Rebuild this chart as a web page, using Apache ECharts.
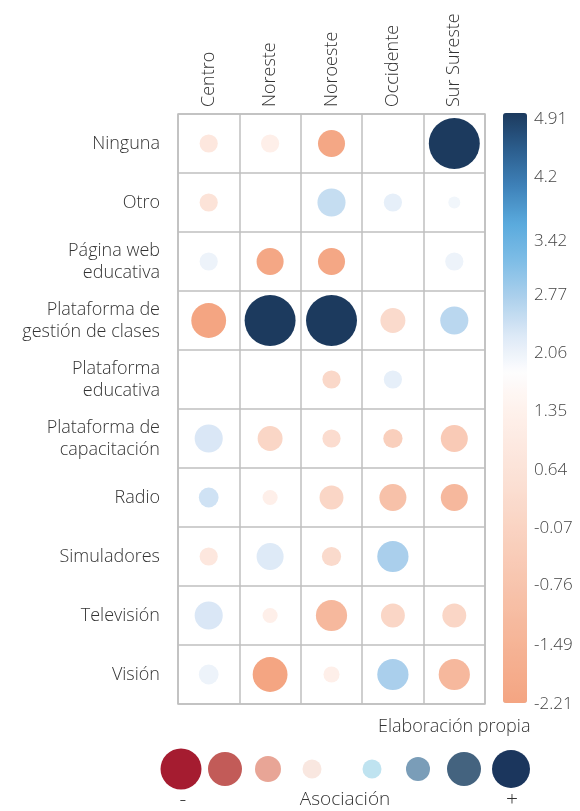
<!DOCTYPE html>
<html>
<head>
<meta charset="utf-8">
<script src="https://cdn.jsdelivr.net/npm/echarts@6/dist/echarts.min.js"></script>
<style>
  html, body { margin: 0; padding: 0; background: #fff; }
  #main { width: 580px; height: 811px; }
</style>
</head>
<body>
<div id="main"></div>
<script>
// regiones (columnas) y recursos (filas)
const regions = ['Centro', 'Noreste', 'Noroeste', 'Occidente', 'Sur Sureste'];
const resources = ['Ninguna', 'Otro', 'Página web\neducativa', 'Plataforma de\ngestión de clases',
  'Plataforma\neducativa', 'Plataforma de\ncapacitación', 'Radio', 'Simuladores', 'Televisión', 'Visión'];

// asociación (color), una fila por recurso, null = sin dato
const assocNinguna = [0.8, 1.2, -2.1, null, 4.91];
const assocOtro = [0.6, null, 2.45, 2.1, 1.95];
const assocPagina = [2.0, -2.1, -2.1, null, 2.0];
const assocGestion = [-2.21, 4.91, 4.91, 0.2, 2.55];
const assocEducativa = [null, null, 0.1, 2.1, null];
const assocCapacitacion = [2.25, 0.0, 0.3, -0.3, -0.5];
const assocRadio = [2.35, 1.2, 0.0, -0.9, -1.3];
const assocSimuladores = [0.8, 2.2, 0.2, 2.7, null];
const assocTelevision = [2.25, 1.2, -1.3, 0.0, 0.0];
const assocVision = [2.0, -2.21, 1.2, 2.7, -1.3];

// magnitud relativa (tamaño del círculo)
const magNinguna = [0.35, 0.35, 0.52, null, 0.98];
const magOtro = [0.35, null, 0.54, 0.35, 0.23];
const magPagina = [0.35, 0.52, 0.52, null, 0.35];
const magGestion = [0.67, 0.98, 0.98, 0.48, 0.54];
const magEducativa = [null, null, 0.35, 0.35, null];
const magCapacitacion = [0.54, 0.48, 0.35, 0.37, 0.52];
const magRadio = [0.38, 0.29, 0.46, 0.52, 0.52];
const magSimuladores = [0.35, 0.52, 0.37, 0.6, null];
const magTelevision = [0.54, 0.29, 0.6, 0.46, 0.46];
const magVision = [0.38, 0.67, 0.31, 0.6, 0.6];

// etiquetas de la barra de color
const scaleTicks = [4.91, 4.2, 3.42, 2.77, 2.06, 1.35, 0.64, -0.07, -0.76, -1.49, -2.21];

const assocRows = [assocNinguna, assocOtro, assocPagina, assocGestion, assocEducativa,
  assocCapacitacion, assocRadio, assocSimuladores, assocTelevision, assocVision];
const magRows = [magNinguna, magOtro, magPagina, magGestion, magEducativa,
  magCapacitacion, magRadio, magSimuladores, magTelevision, magVision];

let data = [];
for (let i = 0; i < resources.length; i++) {
  for (let j = 0; j < regions.length; j++) {
    if (assocRows[i][j] !== null) {
      data.push([regions[j], resources[i], assocRows[i][j], magRows[i][j]]);
    }
  }
}

const txt = '#333';
const font = 'Open Sans';
const gridColor = '#bfbfbf';

// leyenda inferior
const legendColors = ['#a51c30', '#c25b58', '#e8a596', '#f9e7e0', '#bfe3f0', '#7a9db8', '#44637f', '#1b365d'];
const legendSizes = [41, 34, 26, 19, 19, 24, 34, 38];
const legendX = [181, 225, 268, 312, 372, 418, 464, 511];
let legendCircles = legendColors.map(function (c, k) {
  return {
    type: 'circle',
    shape: { cx: legendX[k], cy: 769, r: legendSizes[k] / 2 },
    style: { fill: c }
  };
});

function label(text, x, y, size) {
  return {
    type: 'text', x: x, y: y,
    style: { text: text, fill: txt, fontFamily: font, fontWeight: 300, fontSize: size, align: 'center', verticalAlign: 'middle' }
  };
}

let chart = echarts.init(document.getElementById('main'));
chart.setOption({
  animation: false,
  grid: [
    { left: 178, top: 114, width: 307, height: 590, show: true, borderColor: gridColor, borderWidth: 1.5 },
    { left: 503, top: 119, width: 24, height: 585 }
  ],
  xAxis: [
    {
      type: 'category',
      data: regions,
      position: 'top',
      axisLine: { show: false },
      axisTick: { show: false },
      splitLine: { show: true, lineStyle: { color: gridColor, width: 1.5 } },
      axisLabel: { rotate: -90, margin: 7, fontSize: 18, color: txt, fontFamily: font, fontWeight: 300 }
    },
    { type: 'value', gridIndex: 1, show: false, min: 0, max: 1 }
  ],
  yAxis: [
    {
      type: 'category',
      data: resources,
      inverse: true,
      axisLine: { show: false },
      axisTick: { show: false },
      splitLine: { show: true, lineStyle: { color: gridColor, width: 1.5 } },
      axisLabel: { margin: 18, fontSize: 18, lineHeight: 22, color: txt, fontFamily: font, fontWeight: 300, align: 'right' }
    },
    {
      type: 'value',
      gridIndex: 1,
      position: 'right',
      min: -2.21,
      max: 4.91,
      axisLine: { show: false },
      axisTick: { show: false },
      splitLine: { show: false },
      axisLabel: {
        customValues: scaleTicks,
        margin: 7,
        fontSize: 17,
        color: '#444',
        fontFamily: font,
        fontWeight: 300,
        formatter: function (v) { return String(Math.round(v * 100) / 100); }
      }
    }
  ],
  visualMap: [
    {
      type: 'continuous',
      seriesIndex: 0,
      dimension: 2,
      min: -2.21,
      max: 4.91,
      left: 503,
      top: 113,
      itemWidth: 24,
      itemHeight: 590,
      padding: 0,
      calculable: false,
      hoverLink: false,
      text: null,
      showLabel: false,
      inRange: {
        color: ['#f4a582', '#f5ae8e', '#f6b89c', '#f7c2aa', '#f9ccb8', '#fad6c6', '#fbe0d4', '#fde9e1',
          '#fef2ed', '#fdfdfe', '#dbe8f6', '#acd0ec', '#7ebde6', '#5aaadd', '#3f82b9', '#2c5e8e', '#1c3a5e']
      }
    },
    {
      type: 'continuous',
      show: false,
      seriesIndex: 0,
      dimension: 3,
      min: 0,
      max: 1,
      inRange: { symbolSize: [0, 52] }
    }
  ],
  series: [
    {
      type: 'scatter',
      xAxisIndex: 0,
      yAxisIndex: 0,
      data: data,
      itemStyle: { opacity: 1 },
      emphasis: { disabled: true }
    }
  ],
  graphic: legendCircles.concat([
    { type: 'text', left: 378, top: 718,
      style: { text: 'Elaboración propia', fill: txt, fontFamily: font, fontWeight: 300, fontSize: 18 } },
    label('-', 183, 800, 21),
    label('Asociación', 345, 800, 19),
    label('+', 512, 800, 21)
  ])
});
</script>
</body>
</html>
